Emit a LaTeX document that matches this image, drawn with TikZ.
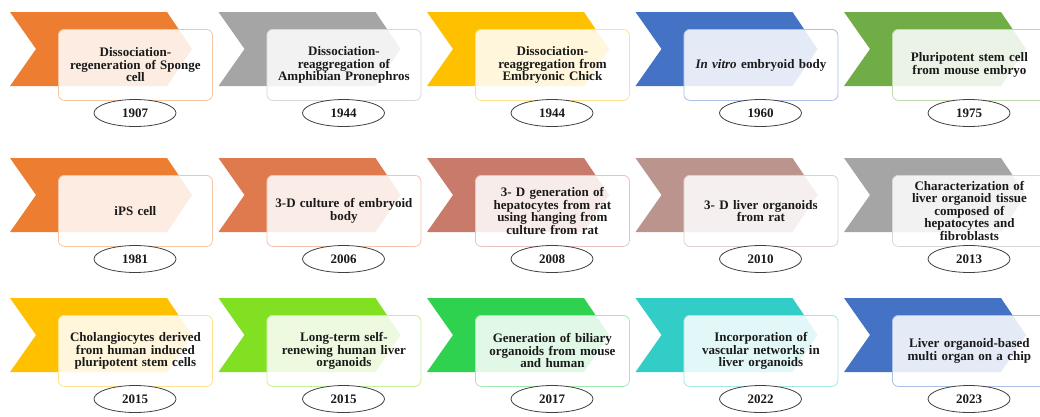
\documentclass[tikz,border=0pt]{standalone}
\usepackage{fontspec}
\setmainfont{Liberation Serif}
\usetikzlibrary{shapes.geometric}
\definecolor{cOrange}{HTML}{ED7D31}
\definecolor{cGray}{HTML}{A5A5A5}
\definecolor{cGold}{HTML}{FFC000}
\definecolor{cBlue}{HTML}{4472C4}
\definecolor{cGreen}{HTML}{70AD47}
\definecolor{cRust}{HTML}{DF7A4E}
\definecolor{cSalmon}{HTML}{C87B6A}
\definecolor{cRose}{HTML}{BB948E}
\definecolor{cLime}{HTML}{80E021}
\definecolor{cBright}{HTML}{2FD24E}
\definecolor{cTeal}{HTML}{33CDC8}
\definecolor{txt}{HTML}{1A1A1A}
\tikzset{
  evbox/.style={rounded corners=6pt, fill=white, fill opacity=0.86, text opacity=1,
    line width=0.8pt, text width=146pt, align=center, inner xsep=4pt, inner ysep=2pt,
    minimum width=154pt, minimum height=71pt, text=txt,
    font=\fontsize{13}{12.5}\selectfont\bfseries},
  yearel/.style={ellipse, draw=black!75, fill=white, line width=0.8pt,
    minimum width=82pt, minimum height=27pt, inner sep=0pt, text=txt,
    font=\fontsize{13}{13}\selectfont\bfseries}
}
\newcommand{\tlitem}[6]{%
  \begin{scope}[shift={(#2,#3)}]
    \fill[#4] (0,0) -- (157,0) -- (182,37) -- (157,74) -- (0,74) -- (26,37) -- cycle;
    \node[evbox, draw=#4!45!white, anchor=north west] (#1) at (48,17) {#5};
    \node[yearel] (#1y) at (125,101) {#6};
  \end{scope}}
\begin{document}
\begin{tikzpicture}[x=1pt,y=-1pt]
\useasboundingbox (0,0) rectangle (1040,416);
% row 1
\tlitem{e1}{10}{12}{cOrange}{Dissociation-\\regeneration of Sponge\\cell}{1907}
\tlitem{e2}{218.5}{12}{cGray}{Dissociation-\\reaggregation of\\Amphibian Pronephros}{1944}
\tlitem{e3}{427}{12}{cGold}{Dissociation-\\reaggregation from\\Embryonic Chick}{1944}
\tlitem{e4}{635.5}{12}{cBlue}{\textit{In vitro} embryoid body}{1960}
\tlitem{e5}{844}{12}{cGreen}{Pluripotent stem cell\\from mouse embryo}{1975}
% row 2
\tlitem{e6}{10}{158}{cOrange}{iPS cell}{1981}
\tlitem{e7}{218.5}{158}{cRust}{3-D culture of embryoid\\body}{2006}
\tlitem{e8}{427}{158}{cSalmon}{3- D generation of\\hepatocytes from rat\\using hanging from\\culture from rat}{2008}
\tlitem{e9}{635.5}{158}{cRose}{3- D liver organoids\\from rat}{2010}
\tlitem{e10}{844}{158}{cGray}{Characterization of\\liver organoid tissue\\composed of\\hepatocytes and\\fibroblasts}{2013}
% row 3
\tlitem{e11}{10}{298}{cGold}{Cholangiocytes derived\\from human induced\\pluripotent stem cells}{2015}
\tlitem{e12}{218.5}{298}{cLime}{Long-term self-\\renewing human liver\\organoids}{2015}
\tlitem{e13}{427}{298}{cBright}{Generation of biliary\\organoids from mouse\\and human}{2017}
\tlitem{e14}{635.5}{298}{cTeal}{Incorporation of\\vascular networks in\\liver organoids}{2022}
\tlitem{e15}{844}{298}{cBlue}{Liver organoid-based\\multi organ on a chip}{2023}
\end{tikzpicture}
\end{document}
